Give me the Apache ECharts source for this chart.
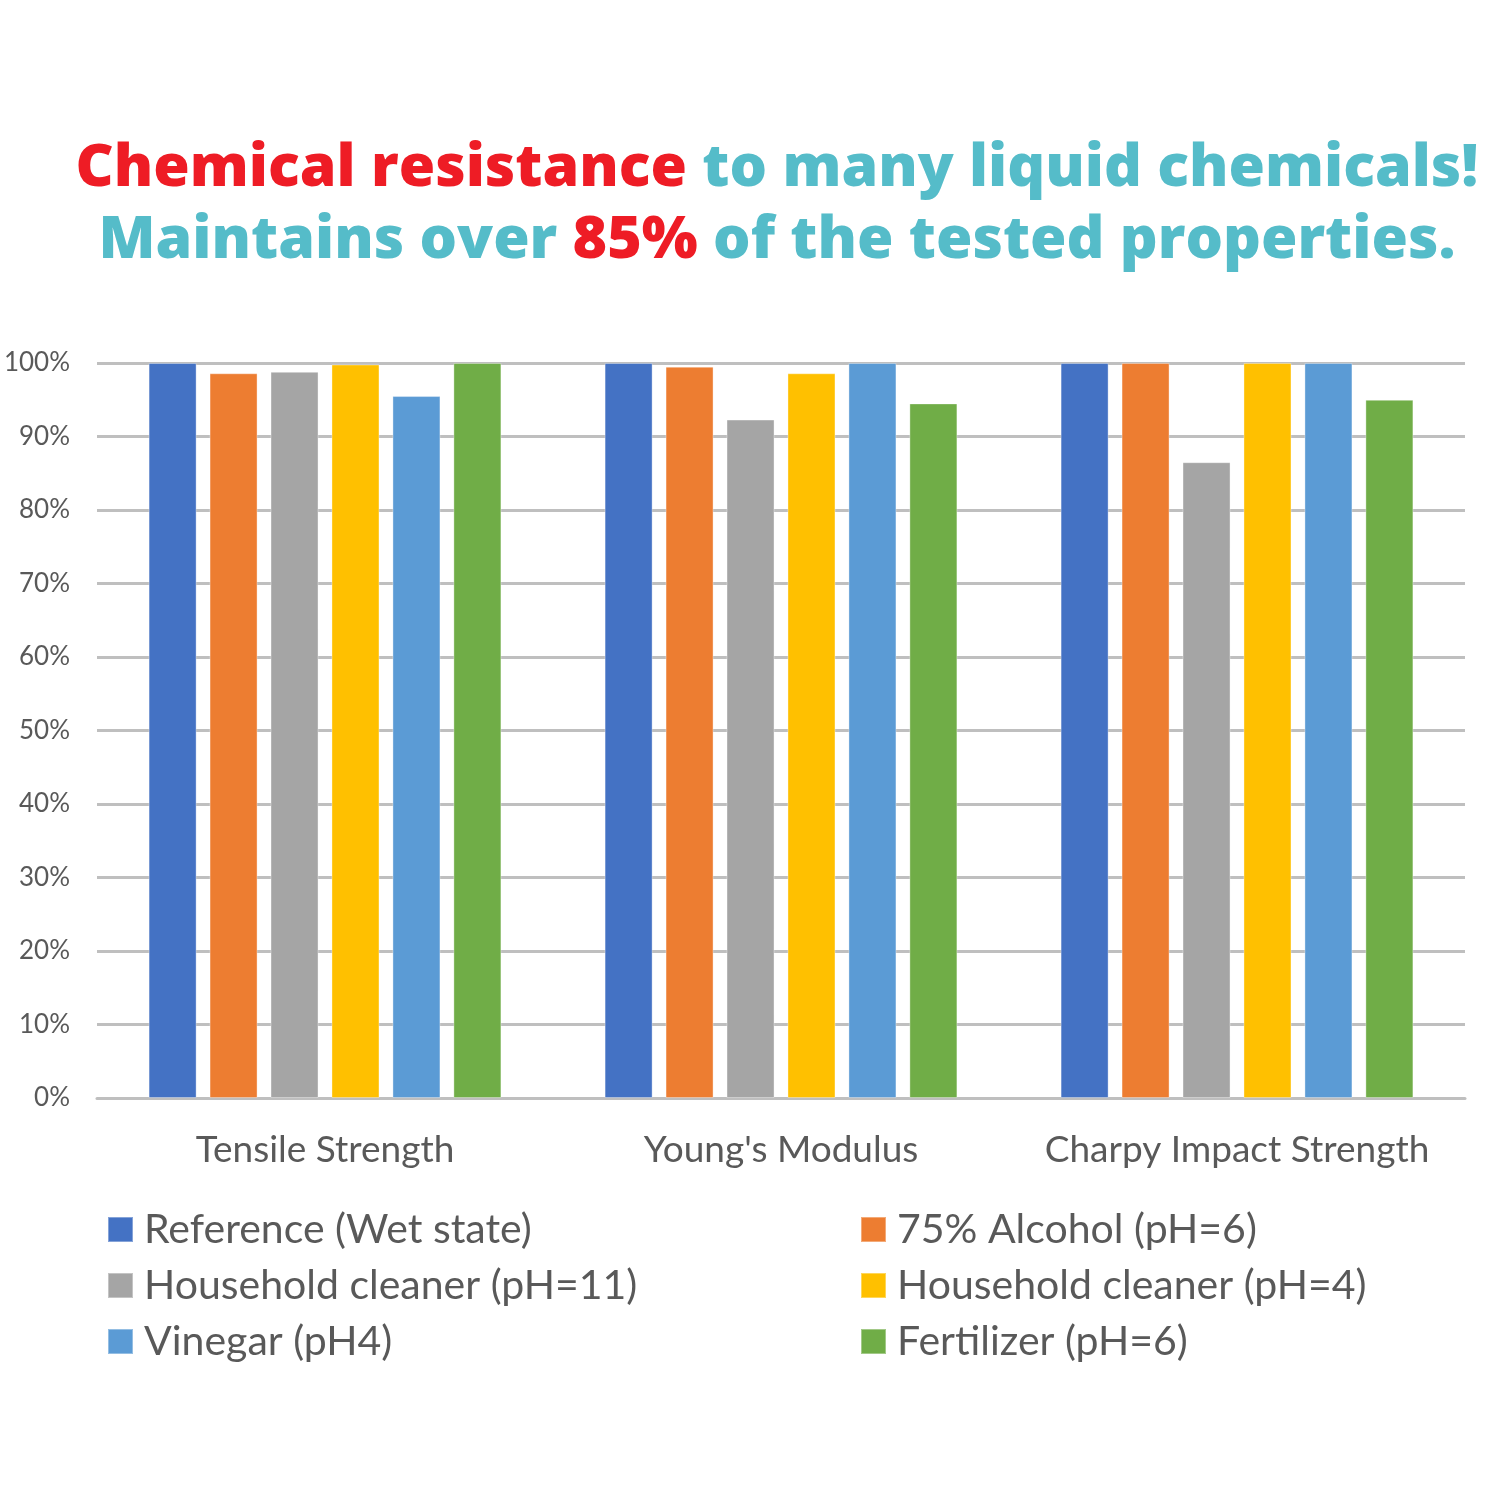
<!DOCTYPE html>
<html>
<head>
<meta charset="utf-8">
<script src="https://cdn.jsdelivr.net/npm/echarts@6/dist/echarts.min.js"></script>
<style>
  html, body { margin: 0; padding: 0; background: #fff; }
  #chart { width: 1500px; height: 1500px; }
</style>
</head>
<body>
<div id="chart"></div>
<script>
const categories = ["Tensile Strength", "Young's Modulus", "Charpy Impact Strength"];
const seriesNames = [
  "Reference (Wet state)",
  "75% Alcohol (pH=6)",
  "Household cleaner (pH=11)",
  "Household cleaner (pH=4)",
  "Vinegar (pH4)",
  "Fertilizer (pH=6)"
];
const reference = [100, 100, 100];
const alcohol = [98.6, 99.5, 100];
const cleanerPh11 = [98.8, 92.3, 86.5];
const cleanerPh4 = [99.8, 98.6, 100];
const vinegar = [95.5, 100, 100];
const fertilizer = [100, 94.5, 95.0];
const yTicks = [0, 10, 20, 30, 40, 50, 60, 70, 80, 90, 100];

const colors = ["#4472C4", "#ED7D31", "#A5A5A5", "#FFC000", "#5B9BD5", "#70AD47"];
const values = [reference, alcohol, cleanerPh11, cleanerPh4, vinegar, fertilizer];

const textFont = "Lato";
const titleFont = "Open Sans";
const chart = echarts.init(document.getElementById("chart"));

// legend: two columns, each a vertical legend
const legendCol = (left, names) => ({
  orient: "vertical",
  left: left,
  top: 1204,
  itemWidth: 25,
  itemHeight: 25,
  itemGap: 15,
  icon: "rect",
  data: names,
  textStyle: { fontSize: 41, color: "#595959", fontFamily: textFont, padding: [0, 0, 0, 6] }
});

chart.setOption({
  backgroundColor: "#fff",
  animation: false,
  color: colors,
  title: {
    left: 772,
    textAlign: "center",
    top: 128,
    text: "{r|Chemical resistance }{t|to many liquid chemicals!}\n{t|Maintains over }{r|85%}{t| of the tested properties.}",
    textStyle: {
      rich: {
        r: { color: "#EE1C25", fontSize: 59, fontWeight: 800, fontFamily: titleFont, lineHeight: 72 },
        t: { color: "#55BCC9", fontSize: 59, fontWeight: 800, fontFamily: titleFont, lineHeight: 72 }
      }
    }
  },
  legend: [
    legendCol(102, [seriesNames[0], seriesNames[2], seriesNames[4]]),
    legendCol(855, [seriesNames[1], seriesNames[3], seriesNames[5]])
  ],
  grid: { left: 97, right: 35, top: 363, bottom: 402 },
  xAxis: {
    type: "category",
    data: categories,
    axisLine: { lineStyle: { color: "#BFBFBF", width: 3 } },
    axisTick: { show: false },
    axisLabel: { interval: 0, hideOverlap: false, fontSize: 37, color: "#595959", fontFamily: textFont, margin: 34 }
  },
  yAxis: {
    type: "value",
    min: yTicks[0],
    max: yTicks[yTicks.length - 1],
    interval: 10,
    axisLine: { show: false },
    axisTick: { show: false },
    axisLabel: { formatter: "{value}%", fontSize: 26, color: "#595959", fontFamily: textFont, margin: 27 },
    splitLine: { lineStyle: { color: "#BFBFBF", width: 3 } }
  },
  series: seriesNames.map((name, i) => ({
    name: name,
    type: "bar",
    data: values[i],
    barWidth: 48,
    barGap: "27%",
    itemStyle: { color: colors[i], borderColor: "rgba(255,255,255,0.35)", borderWidth: 1 }
  }))
});
</script>
</body>
</html>
